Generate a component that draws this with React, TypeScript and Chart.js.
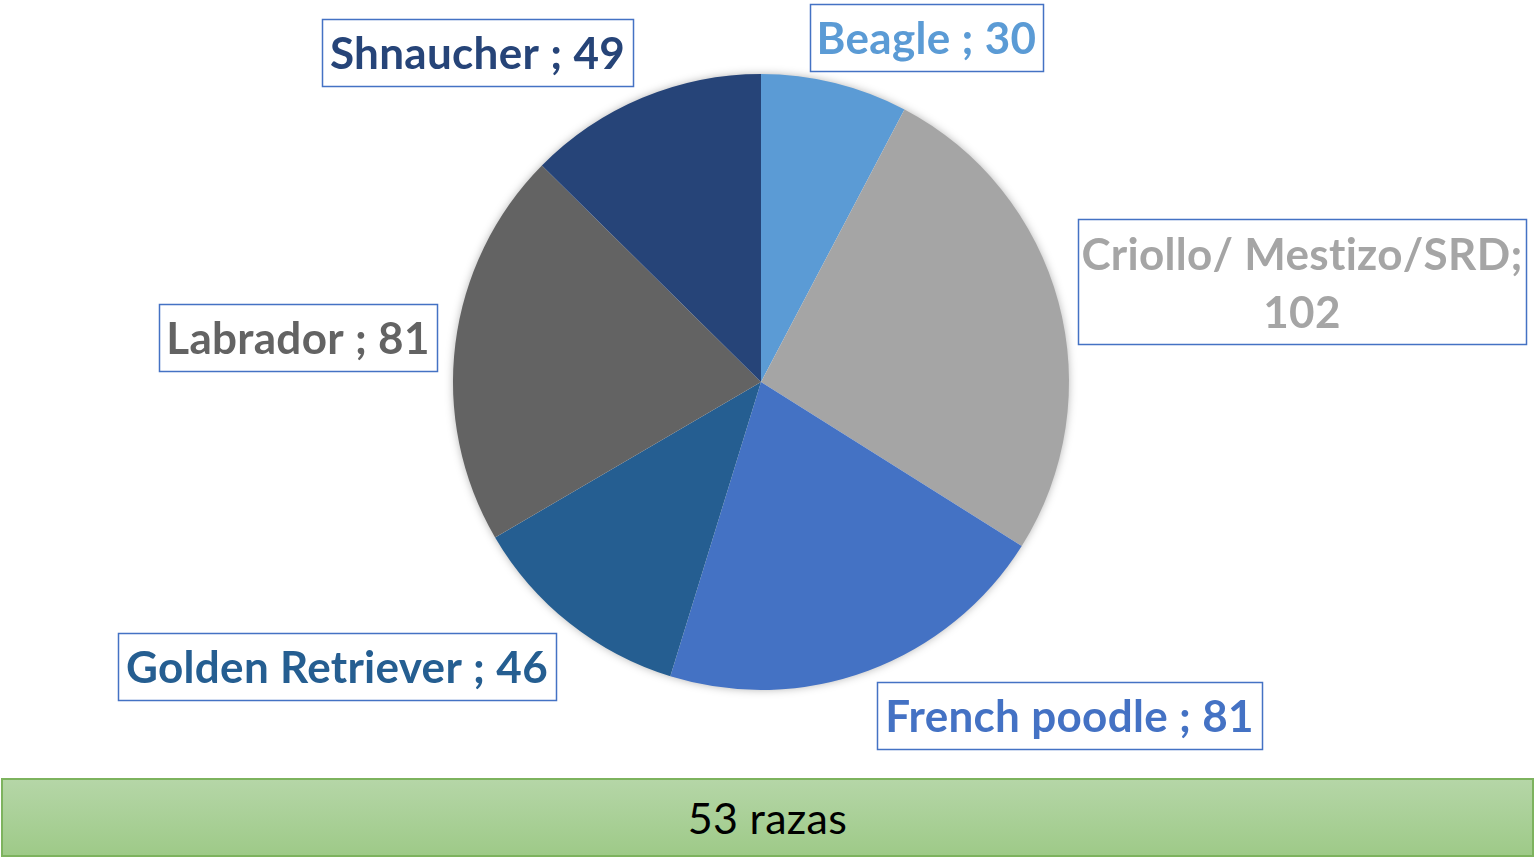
import React, { useEffect, useRef } from "react";
import { Chart, registerables } from "chart.js";

Chart.register(...registerables);

const categories = ["Beagle", "Criollo/ Mestizo/SRD", "French poodle", "Golden Retriever", "Labrador", "Shnaucher"];
const values = [30, 102, 81, 46, 81, 49];
const sliceColors = ["#5B9BD5", "#A5A5A5", "#4472C4", "#255E91", "#636363", "#264478"];
const footerText = "53 razas";

// label box layout (left, top, width, height)
const labelBoxes = [
  { x: 810, y: 4, w: 233, h: 67 },
  { x: 1078, y: 219, w: 448, h: 125 },
  { x: 877, y: 682, w: 385, h: 67 },
  { x: 118, y: 633, w: 438, h: 67 },
  { x: 159, y: 304, w: 278, h: 67 },
  { x: 322, y: 19, w: 311, h: 67 },
];

const FONT = "bold 44px Lato";

const labelPlugin = {
  id: "boxLabels",
  beforeDatasetsDraw(chart: any) {
    const meta = chart.getDatasetMeta(0);
    const arc = meta.data[0];
    if (!arc) return;
    const { x, y, outerRadius } = arc.getProps(["x", "y", "outerRadius"], true);
    const ctx = chart.ctx;
    ctx.save();
    ctx.shadowColor = "rgba(0,0,0,0.35)";
    ctx.shadowBlur = 10;
    ctx.fillStyle = "#ffffff";
    ctx.beginPath();
    ctx.arc(x, y, outerRadius - 1, 0, Math.PI * 2);
    ctx.fill();
    ctx.restore();
  },
  afterDraw(chart: any) {
    const ctx = chart.ctx;
    const data = chart.data;
    ctx.save();
    ctx.font = FONT;
    (ctx as any).letterSpacing = "0.3px";
    ctx.textAlign = "center";
    ctx.textBaseline = "middle";
    data.labels.forEach((lab: string, i: number) => {
      const b = labelBoxes[i];
      const v = data.datasets[0].data[i];
      ctx.fillStyle = "#ffffff";
      ctx.fillRect(b.x, b.y, b.w, b.h);
      ctx.strokeStyle = "#4472C4";
      ctx.lineWidth = 1.5;
      ctx.strokeRect(b.x + 0.5, b.y + 0.5, b.w, b.h);
      ctx.fillStyle = sliceColors[i];
      const cx = b.x + b.w / 2;
      if (b.h > 100) {
        ctx.fillText(lab + ";", cx, b.y + b.h / 2 - 26);
        ctx.fillText(String(v), cx, b.y + b.h / 2 + 32);
      } else {
        ctx.fillText(lab + " ; " + v, cx, b.y + b.h / 2 + 2);
      }
    });
    ctx.restore();
  },
};

export default function App() {
  const ref = useRef<HTMLCanvasElement | null>(null);
  useEffect(() => {
    if (!ref.current) return;
    const chart = new Chart(ref.current, {
      type: "pie",
      data: {
        labels: categories,
        datasets: [
          {
            data: values,
            backgroundColor: sliceColors,
            borderWidth: 0,
          },
        ],
      },
      options: {
        responsive: false,
        animation: false,
        layout: { padding: { left: 453, right: 468, top: 74, bottom: 88 } },
        plugins: {
          legend: { display: false },
          tooltip: { enabled: false },
        },
      },
      plugins: [labelPlugin],
    });
    return () => chart.destroy();
  }, []);

  return (
    <div style={{ position: "fixed", left: 0, top: 0, width: 1537, height: 858, background: "#fff" }}>
      <canvas ref={ref} width={1537} height={778} style={{ position: "absolute", left: 0, top: 0, width: 1537, height: 778 }} />
      <div
        style={{
          position: "absolute",
          left: 1,
          top: 778,
          width: 1533,
          height: 79,
          boxSizing: "border-box",
          border: "2px solid #7DB35E",
          background: "linear-gradient(to bottom, #B5D6A7, #9ECA88)",
          display: "flex",
          alignItems: "center",
          justifyContent: "center",
          fontFamily: "Lato",
          fontSize: 43,
          letterSpacing: "0.3px",
          fontVariantLigatures: "none",
          color: "#000",
        }}
      >
        {footerText}
      </div>
    </div>
  );
}
